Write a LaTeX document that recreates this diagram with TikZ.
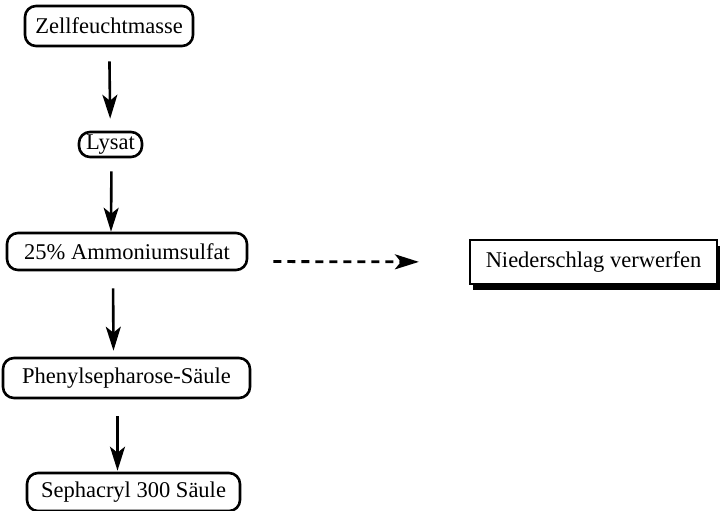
\documentclass[tikz,border=0pt]{standalone}
\usepackage{fontspec}
\setmainfont{Liberation Serif}
\usetikzlibrary{arrows.meta,shadows}

\begin{document}
\begin{tikzpicture}[x=1pt,y=-1pt,
  font=\fontsize{22.5}{26}\selectfont,
  stufe/.style={draw,line width=2.6pt,rounded corners=11pt,inner sep=0pt},
  pfeil/.style={line width=2.6pt,-{Stealth[length=24pt,width=15pt,inset=6pt]}},
  verwurf/.style={draw,line width=2.2pt,fill=white,inner sep=0pt,
    drop shadow={shadow xshift=3pt,shadow yshift=-6pt,fill=black,opacity=1}}]
\useasboundingbox (0,0) rectangle (721,511);

\draw (109,26)     node (11) [stufe,minimum width=168pt,minimum height=40pt] {Zellfeuchtmasse};

\draw (110.5,144.5) node (21) [stufe,minimum width=63pt,minimum height=25pt] {Lysat};
\draw[pfeil,shorten <=14pt,shorten >=12pt] (11) -- (21);

\draw (127,251.5)  node (31) [stufe,minimum width=240pt,minimum height=37pt] {25\% Ammoniumsulfat};
\draw[pfeil,shorten <=13pt] ([xshift=1pt]21.south) -- ([xshift=-16pt]31.north);

\draw (593.5,262)  node (33) [verwurf,minimum width=247pt,minimum height=44pt] {Niederschlag verwerfen};
\draw[pfeil,line width=2.8pt,dash pattern=on 8pt off 6pt,shorten <=25pt,shorten >=50pt] ([yshift=-10pt]31.east) -- (33.west);

\draw (126.5,378)  node (41) [stufe,minimum width=247pt,minimum height=40pt] {Phenylsepharose-Säule};
\draw[pfeil,shorten <=17pt,shorten >=6pt] ([xshift=-14pt]31.south) -- ([xshift=-13pt]41.north);

\draw (133.5,492)  node (51) [stufe,minimum width=213pt,minimum height=38pt] {Sephacryl 300 Säule};
\draw[pfeil,shorten <=17pt,shorten >=1pt] ([xshift=-9pt]41.south) -- ([xshift=-16pt]51.north);
\end{tikzpicture}
\end{document}
